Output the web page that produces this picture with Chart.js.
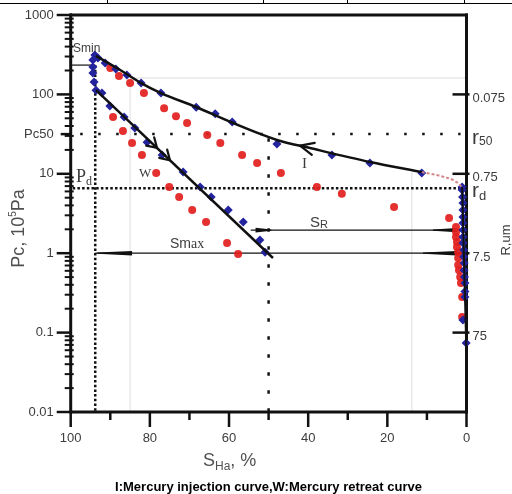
<!DOCTYPE html>
<html>
<head>
<meta charset="utf-8">
<script src="https://cdn.jsdelivr.net/npm/chart.js@4.4.1/dist/chart.umd.min.js"></script>
<style>
  html, body { margin: 0; padding: 0; background: #fff; }
  canvas { display: block; }
</style>
</head>
<body>
<canvas id="pcChart" width="512" height="494"></canvas>
<script>
// Axis ticks
const xTicks = [100, 80, 60, 40, 20, 0];
const xMinorTicks = [90, 70, 50, 30, 10];
const pcTicks = [1000, 100, 31.6, 10, 1, 0.1, 0.01];
const pcTickLabels = ['1000', '100', 'Pc50', '10', '1', '0.1', '0.01'];
const rTicks = [100, 10, 1, 0.1];
const rTickLabels = ['0.075', '0.75', '7.5', '75'];

// Blue diamonds - injection curve (I)
const injS  = [93.9, 93.1, 91.3, 88.6, 85.8, 82.2, 77.2, 68.3, 63.5, 59.2, 47.9, 34.0, 24.4, 11.3, 1.1,
               1.1, 1.0, 0.9, 0.9, 0.9, 0.9, 0.9, 0.9, 0.9, 0.7, 0.7, 0.6, 0.6, 0.5, 0.4, 0.4, 0.4, 0.9, 0.1];
const injPc = [313, 287, 248, 209, 176, 139, 104, 69, 57, 45, 23.7, 17.3, 13.7, 10.2, 6.8,
               6.25, 5.1, 4.29, 3.5, 2.86, 2.4, 1.96, 1.6, 1.34, 1.1, 0.9, 0.75, 0.61, 0.5, 0.42, 0.33, 0.28, 0.144, 0.074];

// Blue diamonds - retreat curve (W)
const retS  = [94.4, 94.4, 94.4, 94.1, 93.6, 92.1, 90.1, 86.5, 83.8, 80.7, 76.9, 71.6, 67.3, 64.5, 60.2, 56.4, 52.2, 50.9];
const retPc = [271, 221, 186, 143, 113, 104, 71.5, 52, 37.7, 25, 17.3, 10.5, 6.8, 5.1, 3.5, 2.47, 1.47, 1.03];

// Red circles - second sample, injection
const inj2S  = [90.0, 87.8, 85.0, 81.5, 76.4, 73.4, 70.6, 65.5, 62.2, 56.7, 52.9, 46.9, 37.8, 31.5, 18.3, 4.4,
                2.65, 2.65, 2.65, 2.4, 2.4, 2.1, 2.1, 2.1, 1.9, 1.6, 1.4, 1.1, 1.1];
const inj2Pc = [215, 171, 139, 104, 67, 53, 43.6, 30.8, 24.4, 17.3, 13.7, 10.2, 6.8, 5.6, 3.82, 2.77,
                2.14, 1.85, 1.6, 1.38, 1.2, 1.03, 0.87, 0.71, 0.61, 0.5, 0.42, 0.28, 0.157];

// Red circles - second sample, retreat
const ret2S  = [89.3, 86.8, 84.5, 82.0, 78.4, 75.1, 72.6, 69.3, 65.8, 60.5, 57.7];
const ret2Pc = [52, 34.6, 24.4, 17.3, 10.2, 6.8, 5.1, 3.5, 2.47, 1.34, 0.98];

// Fitted curves
const curveIS  = [93.6, 87.5, 82.2, 77.2, 68.3, 59.0, 47.9, 39.5, 24.4, 11.3];
const curveIPc = [305, 203, 139, 104, 69.4, 43.6, 26.7, 21.1, 14.1, 10.5];
const tailS  = [11.3, 6.7, 2.9, 1.1];
const tailPc = [10.5, 9.4, 8.1, 6.8];
const colS  = [1.1, 0.0];
const colPc = [6.8, 0.05];
const curveWS  = [93.6, 48.9];
const curveWPc = [113.5, 0.87];

// Characteristic values
const sMin = 93.8, pcMin = 234;
const pc50 = 31.6, pd = 6.6;
const s50 = 50;
const pcSR = 1.95, pcSmax = 1;

const SANS = '"Liberation Sans", Arial, sans-serif';
const SERIF = '"Liberation Serif", "Times New Roman", serif';
const INK = '#111';
const GREY = '#3c3c3c';

const toPts = (xs, ys) => xs.map((v, i) => ({ x: v, y: ys[i] }));

function runs(ctx, x, y, parts) {
  parts.forEach(([t, font, dy]) => {
    ctx.font = font;
    ctx.fillText(t, x, y + (dy || 0));
    x += ctx.measureText(t).width;
  });
  return x;
}
function runsWidth(ctx, parts) {
  let w = 0;
  parts.forEach(([t, font]) => { ctx.font = font; w += ctx.measureText(t).width; });
  return w;
}
function seg(ctx, x1, y1, x2, y2) {
  ctx.beginPath(); ctx.moveTo(x1, y1); ctx.lineTo(x2, y2); ctx.stroke();
}
function wedge(ctx, xTip, xBase, y, half) {
  ctx.beginPath();
  ctx.moveTo(xTip, y - 0.6); ctx.lineTo(xBase, y - half);
  ctx.lineTo(xBase, y + half); ctx.lineTo(xTip, y + 0.6);
  ctx.closePath(); ctx.fill();
}
function chevron(ctx, tx, ty, ux, uy, len, ang) {
  // (ux,uy) is the pointing direction
  const c = Math.cos(ang), s = Math.sin(ang);
  const bx = -ux, by = -uy;
  ctx.beginPath();
  ctx.moveTo(tx + len * (bx * c - by * s), ty + len * (bx * s + by * c));
  ctx.lineTo(tx, ty);
  ctx.lineTo(tx + len * (bx * c + by * s), ty + len * (-bx * s + by * c));
  ctx.stroke();
}
// keep the plot box fixed: no extra room for overflowing tick labels
function noPad(s) {
  s.paddingTop = 0; s.paddingBottom = 0; s.paddingLeft = 0; s.paddingRight = 0;
}

const overlay = {
  id: 'overlay',
  beforeDatasetsDraw(chart) {
    const { ctx, chartArea: a, scales: { x, y } } = chart;
    const px = v => x.getPixelForValue(v), py = v => y.getPixelForValue(v);
    ctx.save();

    // faint inset frame lines
    ctx.strokeStyle = '#dedede'; ctx.lineWidth = 1;
    seg(ctx, px(85), py(161), a.right, py(161));
    seg(ctx, px(85), py(161), px(85), a.bottom);
    seg(ctx, px(13.8), py(10.5), px(13.8), a.bottom);

    ctx.strokeStyle = INK;
    // dotted reference lines
    ctx.lineWidth = 2.5;
    ctx.setLineDash([2.5, 2.2]);
    seg(ctx, a.left + 2, py(pd), px(1.1), py(pd));
    seg(ctx, px(sMin), py(pcMin), px(sMin), a.bottom);
    ctx.setLineDash([2.5, 15.5]);
    seg(ctx, px(97.6), py(pc50), px(1.5), py(pc50));
    ctx.setLineDash([3.5, 14.5]);
    seg(ctx, px(s50), py(28), px(s50), a.bottom);
    ctx.setLineDash([]);

    // Smin, Smax, SR lines
    ctx.lineWidth = 1.2;
    seg(ctx, a.left, py(pcMin), px(sMin), py(pcMin));
    seg(ctx, px(sMin), py(pcSmax), a.right, py(pcSmax));
    seg(ctx, px(54.5), py(pcSR), a.right, py(pcSR));
    ctx.fillStyle = INK;
    wedge(ctx, px(sMin) + 2, px(84.5), py(pcSmax), 2.2);
    wedge(ctx, px(11), px(2.4), py(pcSmax), 2.2);
    wedge(ctx, px(8.5), px(2.4), py(pcSR), 2.2);
    wedge(ctx, px(49.3), px(53.3), py(pcSR), 2.4);

    // axes frame
    ctx.lineWidth = 3;
    seg(ctx, a.left - 1, a.top, a.right + 1.5, a.top);
    seg(ctx, a.left, a.top - 1.5, a.left, a.bottom + 1.5);
    seg(ctx, a.right, a.top - 1.5, a.right, a.bottom + 1.5);
    seg(ctx, a.left - 1, a.bottom, a.right + 1.5, a.bottom);

    // bottom ticks
    ctx.lineWidth = 2.5;
    xTicks.forEach(v => seg(ctx, px(v), a.bottom, px(v), a.bottom + 15));
    xMinorTicks.forEach(v => seg(ctx, px(v), a.bottom, px(v), a.bottom + 8));

    // left ticks
    pcTicks.forEach(v => {
      const len = v === pc50 ? 10 : 14;
      seg(ctx, a.left - len, py(v), a.left + 1, py(v));
    });
    ctx.lineWidth = 2;
    for (let k = -2; k < 3; k++) {
      for (let m = 2; m < 10; m++) {
        const v = m * Math.pow(10, k);
        seg(ctx, a.left - 6, py(v), a.left + 3, py(v));
      }
    }
    // right ticks (pore radius)
    ctx.lineWidth = 2.5;
    rTicks.forEach(v => seg(ctx, a.right - 14, py(v), a.right + 3, py(v)));
    ctx.restore();
  },
  afterDatasetsDraw(chart) {
    const { ctx, scales: { x, y } } = chart;
    const px = v => x.getPixelForValue(v), py = v => y.getPixelForValue(v);
    ctx.save();
    ctx.strokeStyle = INK; ctx.lineWidth = 2.2; ctx.lineCap = 'round';

    // W arrows (double chevron pointing down the curve)
    const w0 = [px(curveWS[0]), py(curveWPc[0])], w1 = [px(curveWS[1]), py(curveWPc[1])];
    let dx = w1[0] - w0[0], dy = w1[1] - w0[1], L = Math.hypot(dx, dy);
    const wu = [dx / L, dy / L];
    [157, 170].forEach(xx => {
      const t = (xx - w0[0]) / dx;
      chevron(ctx, xx, w0[1] + t * dy, wu[0], wu[1], 11, 0.55);
    });

    // I arrow (pointing up the curve)
    const i0 = [px(47.9), py(26.7)], i1 = [px(39.5), py(21.1)];
    dx = i0[0] - i1[0]; dy = i0[1] - i1[1]; L = Math.hypot(dx, dy);
    const tt = (300 - i1[0]) / dx;
    chevron(ctx, 300, i1[1] + tt * dy, dx / L, dy / L, 15, 0.42);
    ctx.restore();
  },
  afterDraw(chart) {
    const { ctx } = chart;
    ctx.save();
    ctx.fillStyle = GREY;
    ctx.textBaseline = 'alphabetic';
    ctx.textAlign = 'left';

    runs(ctx, 73, 52, [['Smin', '12px ' + SANS]]);
    runs(ctx, 76, 182, [['P', '18px ' + SERIF], ['d', '12px ' + SERIF, 3]]);
    runs(ctx, 139, 177, [['W', '13px ' + SERIF]]);
    runs(ctx, 302, 168, [['I', '15px ' + SERIF]]);
    runs(ctx, 310, 227, [['S', '15px ' + SANS], ['R', '11px ' + SANS, 1]]);
    runs(ctx, 170, 248, [['Sm', '14px ' + SANS], ['ax', '14px ' + SERIF]]);

    // right side symbols
    runs(ctx, 472, 144, [['r', '21px ' + SANS], ['50', '12px ' + SANS, 1]]);
    runs(ctx, 472, 197, [['r', '21px ' + SANS], ['d', '13px ' + SANS, 3]]);

    // R,um rotated
    ctx.save();
    ctx.translate(510, 240); ctx.rotate(-Math.PI / 2);
    ctx.textAlign = 'center';
    ctx.font = '13px ' + SANS;
    ctx.fillText('R,um', 0, 0);
    ctx.restore();

    // y title
    ctx.save();
    ctx.fillStyle = '#505050';
    ctx.translate(24, 228.5); ctx.rotate(-Math.PI / 2);
    const yt = [['Pc, 10', '18px ' + SANS], ['5', '10px ' + SANS, -8], ['Pa', '18px ' + SANS]];
    runs(ctx, -runsWidth(ctx, yt) / 2, 0, yt);
    ctx.restore();

    // x title
    ctx.fillStyle = '#505050';
    runs(ctx, 203, 466, [['S', '18px ' + SANS], ['Ha', '12px ' + SANS, 4], [', %', '18px ' + SANS]]);

    // caption
    ctx.fillStyle = '#000';
    ctx.textAlign = 'center'; ctx.textBaseline = 'middle';
    ctx.font = 'bold 13px ' + SANS;
    ctx.fillText('I:Mercury injection curve,W:Mercury retreat curve', 268.5, 487, 333);

    // table rule at the very top
    ctx.strokeStyle = '#000'; ctx.lineWidth = 1;
    seg(ctx, 0, 3.5, 512, 3.5);
    [107.5, 263.5, 347.5, 464.5].forEach(xx => seg(ctx, xx, 0, xx, 4));
    ctx.restore();
  }
};

new Chart(document.getElementById('pcChart').getContext('2d'), {
  type: 'scatter',
  data: {
    datasets: [
      { label: 'I curve', data: toPts(curveIS, curveIPc), showLine: true, borderColor: INK, borderWidth: 2.5,
        pointRadius: 0, cubicInterpolationMode: 'monotone', order: 0 },
      { label: 'I tail', data: toPts(tailS, tailPc), showLine: true, borderColor: '#d48888', borderWidth: 2,
        borderDash: [3, 2], pointRadius: 0, cubicInterpolationMode: 'monotone', order: 0 },
      { label: 'column', data: toPts(colS, colPc), showLine: true, borderColor: INK, borderWidth: 2,
        pointRadius: 0, order: 0, clip: false },
      { label: 'W curve', data: toPts(curveWS, curveWPc), showLine: true, borderColor: INK, borderWidth: 2.5,
        pointRadius: 0, order: 0 },
      { label: 'injection', data: toPts(injS, injPc), pointStyle: 'rectRot', pointRadius: 4.5,
        backgroundColor: '#23239e', borderColor: '#23239e', borderWidth: 0, order: 1, clip: false },
      { label: 'retreat', data: toPts(retS, retPc), pointStyle: 'rectRot', pointRadius: 4.5,
        backgroundColor: '#23239e', borderColor: '#23239e', borderWidth: 0, order: 1, clip: false },
      { label: 'injection 2', data: toPts(inj2S, inj2Pc), pointStyle: 'circle', pointRadius: 4,
        backgroundColor: 'rgba(226,32,30,0.92)', borderWidth: 0, order: 2, clip: false },
      { label: 'retreat 2', data: toPts(ret2S, ret2Pc), pointStyle: 'circle', pointRadius: 4,
        backgroundColor: 'rgba(226,32,30,0.92)', borderWidth: 0, order: 2, clip: false }
    ]
  },
  options: {
    responsive: false,
    animation: false,
    events: [],
    layout: { padding: { top: 15, left: 0, right: 0, bottom: 0 } },
    plugins: { legend: { display: false }, tooltip: { enabled: false } },
    scales: {
      x: {
        type: 'linear', reverse: true, min: 0, max: 100,
        grid: { display: false, drawTicks: false }, border: { display: false },
        afterBuildTicks: s => { s.ticks = xTicks.map(v => ({ value: v })); },
        afterFit: s => { s.height = 82; noPad(s); },
        ticks: { padding: 19, autoSkip: false, maxRotation: 0, color: GREY,
                 font: { family: SANS, size: 13 }, callback: v => String(v) }
      },
      y: {
        type: 'logarithmic', position: 'left', min: 0.01, max: 1000,
        grid: { display: false, drawTicks: false }, border: { display: false },
        afterBuildTicks: s => { s.ticks = pcTicks.map(v => ({ value: v })); },
        afterFit: s => { s.width = 70.7; noPad(s); },
        ticks: { padding: 17, autoSkip: false, color: GREY, font: { family: SANS, size: 13 },
                 callback: v => pcTickLabels[pcTicks.indexOf(v)] }
      },
      y2: {
        type: 'logarithmic', position: 'right', min: 0.01, max: 1000,
        grid: { display: false, drawTicks: false }, border: { display: false },
        afterBuildTicks: s => { s.ticks = rTicks.map(v => ({ value: v })); },
        afterFit: s => { s.width = 45.5; noPad(s); },
        ticks: { padding: 6, autoSkip: false, color: GREY, labelOffset: 4, font: { family: SANS, size: 13 },
                 callback: v => rTickLabels[rTicks.indexOf(v)] }
      }
    }
  },
  plugins: [overlay]
});
</script>
</body>
</html>
